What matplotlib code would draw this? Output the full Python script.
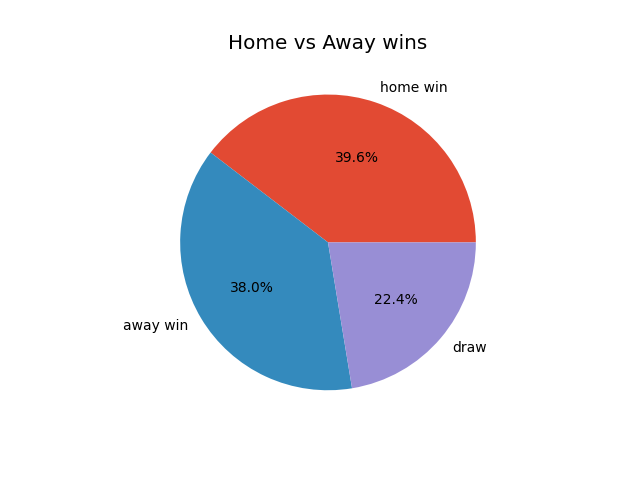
import matplotlib
matplotlib.use("Agg")
import matplotlib.pyplot as plt

plt.style.use("ggplot")

labels = ["home win", "away win", "draw"]
values = [39.6, 38.0, 22.4]

fig, ax = plt.subplots(figsize=(6.4, 4.8), dpi=100)
ax.pie(values, labels=labels, autopct="%1.1f%%")
ax.set_title("Home vs Away wins")
fig.savefig("out.png")
